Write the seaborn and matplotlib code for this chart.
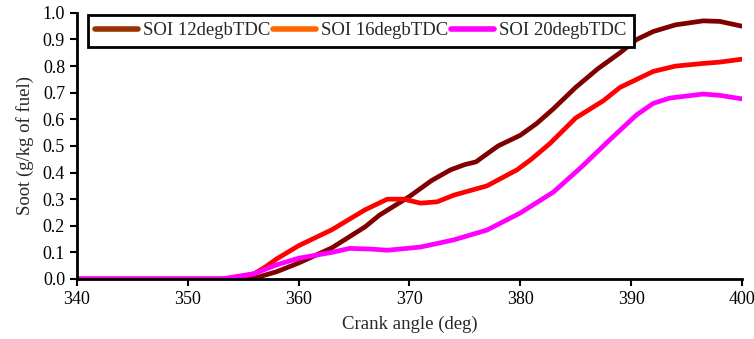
import matplotlib
matplotlib.use("Agg")
import matplotlib.pyplot as plt
import seaborn as sns
import pandas as pd
from matplotlib.lines import Line2D

labels = ["SOI 12degbTDC", "SOI 16degbTDC", "SOI 20degbTDC"]
line_colors = ["#800000", "#FF0000", "#FF00FF"]
legend_colors = ["#993300", "#FF6600", "#FF00FF"]

angle12 = [340, 355.5, 356, 358, 360, 363, 366, 367.3, 370, 372, 373.7, 375, 376, 378, 380,
           381.5, 383, 385, 387, 389, 390.5, 392, 394, 396.5, 398, 400]
soot12 = [0, 0, 0.003, 0.027, 0.06, 0.117, 0.196, 0.24, 0.31, 0.37, 0.41, 0.43, 0.44, 0.50, 0.54,
          0.585, 0.64, 0.72, 0.79, 0.85, 0.90, 0.93, 0.955, 0.97, 0.968, 0.95]

angle16 = [340, 354, 356, 357, 358, 360, 363, 366, 368, 369.5, 371, 372.5, 374, 377, 379.7, 381,
           382.7, 385, 387.5, 389, 390.5, 392, 394, 396.5, 398, 400]
soot16 = [0, 0, 0.02, 0.045, 0.075, 0.125, 0.185, 0.26, 0.30, 0.30, 0.285, 0.29, 0.315, 0.35, 0.41, 0.45,
          0.51, 0.605, 0.67, 0.72, 0.75, 0.78, 0.80, 0.81, 0.815, 0.826]

angle20 = [340, 353, 356, 358, 360, 363, 364.6, 366.7, 368, 371, 374, 377, 380, 383, 385.5,
           388, 390.5, 392, 393.5, 396.5, 398, 400]
soot20 = [0, 0, 0.02, 0.053, 0.078, 0.1, 0.115, 0.112, 0.108, 0.12, 0.147, 0.184, 0.248, 0.327, 0.42,
          0.52, 0.617, 0.66, 0.68, 0.695, 0.69, 0.677]

frames = []
for lab, a, s in zip(labels, [angle12, angle16, angle20], [soot12, soot16, soot20]):
    frames.append(pd.DataFrame({"angle": a, "soot": s, "case": lab}))
df = pd.concat(frames, ignore_index=True)

sns.set_style("white")
plt.rcParams["font.family"] = ["Liberation Serif", "DejaVu Serif"]

fig = plt.figure(figsize=(7.54, 3.39), dpi=100)
ax = fig.add_axes([0.102, 0.177, 0.882, 0.785])

sns.lineplot(data=df, x="angle", y="soot", hue="case", palette=line_colors,
             linewidth=3.4, ax=ax, legend=False, estimator=None, sort=False)

ax.set_xlim(340, 400)
ax.set_ylim(0, 1.0)
ax.set_xticks(range(340, 401, 10))
ax.set_yticks([i / 10 for i in range(11)])
ax.set_yticklabels([f"{i/10:.1f}" for i in range(11)])
ax.tick_params(axis="both", direction="out", length=5, width=1.5, labelsize=13,
               colors="black", left=True, bottom=True)
for side in ["top", "right"]:
    ax.spines[side].set_visible(False)
for side in ["left", "bottom"]:
    ax.spines[side].set_linewidth(2)
    ax.spines[side].set_color("black")

ax.set_xlabel("Crank angle (deg)", fontsize=13.5, labelpad=6)
ax.set_ylabel("Soot (g/kg of fuel)", fontsize=13.5, labelpad=6)

handles = [Line2D([0], [0], color=c, lw=4) for c in legend_colors]
leg = ax.legend(handles, labels, loc="upper left", bbox_to_anchor=(0.016, 0.993), ncol=3,
                frameon=True, fancybox=False, fontsize=13.5, handlelength=2.3,
                handletextpad=0.25, columnspacing=0.15, borderpad=0.4, borderaxespad=0)
leg.get_frame().set_edgecolor("black")
leg.get_frame().set_linewidth(2)
leg.get_frame().set_alpha(1)

fig.savefig("out.png", dpi=100)
